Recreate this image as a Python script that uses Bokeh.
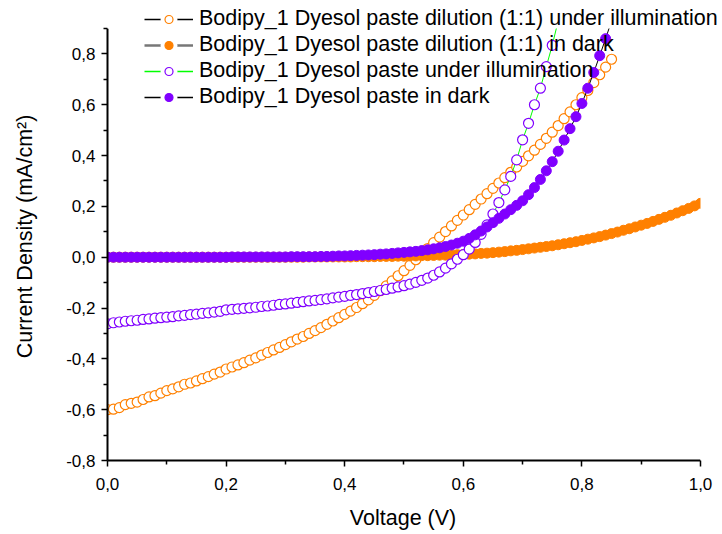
from bokeh.plotting import figure
from bokeh.models import Range1d, Legend, LegendItem, FixedTicker, CustomJSTickFormatter, BoxAnnotation
from bokeh.embed import file_html
from bokeh.resources import INLINE

# ---------------- data ----------------
voltage = [
    0.00, 0.01, 0.02, 0.03, 0.04, 0.05, 0.06, 0.07, 0.08, 0.09,
    0.10, 0.11, 0.12, 0.13, 0.14, 0.15, 0.16, 0.17, 0.18, 0.19,
    0.20, 0.21, 0.22, 0.23, 0.24, 0.25, 0.26, 0.27, 0.28, 0.29,
    0.30, 0.31, 0.32, 0.33, 0.34, 0.35, 0.36, 0.37, 0.38, 0.39,
    0.40, 0.41, 0.42, 0.43, 0.44, 0.45, 0.46, 0.47, 0.48, 0.49,
    0.50, 0.51, 0.52, 0.53, 0.54, 0.55, 0.56, 0.57, 0.58, 0.59,
    0.60, 0.61, 0.62, 0.63, 0.64, 0.65, 0.66, 0.67, 0.68, 0.69,
    0.70, 0.71, 0.72, 0.73, 0.74, 0.75, 0.76, 0.77, 0.78, 0.79,
    0.80, 0.81, 0.82, 0.83, 0.84, 0.85, 0.86, 0.87, 0.88, 0.89,
    0.90, 0.91, 0.92, 0.93, 0.94, 0.95, 0.96, 0.97, 0.98, 0.99,
    1.00,
]

# Bodipy_1 Dyesol paste dilution (1:1) under illumination (0.00 .. 0.85 V)
j_dilution_light = [
    -0.600, -0.598, -0.592, -0.580, -0.575, -0.570, -0.560, -0.550, -0.545, -0.535,
    -0.525, -0.518, -0.510, -0.500, -0.495, -0.487, -0.478, -0.470, -0.460, -0.452,
    -0.440, -0.432, -0.424, -0.415, -0.405, -0.396, -0.385, -0.375, -0.365, -0.355,
    -0.344, -0.333, -0.322, -0.312, -0.300, -0.289, -0.277, -0.264, -0.251, -0.238,
    -0.225, -0.212, -0.198, -0.183, -0.168, -0.150, -0.132, -0.113, -0.093, -0.073,
    -0.053, -0.032, -0.010, 0.012, 0.034, 0.057, 0.079, 0.101, 0.123, 0.145,
    0.166, 0.187, 0.208, 0.229, 0.250, 0.271, 0.292, 0.313, 0.334, 0.355,
    0.377, 0.399, 0.421, 0.444, 0.468, 0.492, 0.518, 0.545, 0.572, 0.600,
    0.628, 0.656, 0.687, 0.718, 0.748, 0.779,
]

# Bodipy_1 Dyesol paste dilution (1:1) in dark (0.00 .. 1.00 V)
j_dilution_dark = [
    0.000, 0.000, 0.000, 0.000, 0.000, 0.000, 0.000, 0.000, 0.000, 0.000,
    0.000, 0.000, 0.000, 0.000, 0.000, 0.000, 0.000, 0.000, 0.000, 0.000,
    0.000, 0.000, 0.000, 0.000, 0.000, 0.000, 0.000, 0.000, 0.000, 0.000,
    0.000, 0.000, 0.000, 0.000, 0.001, 0.001, 0.001, 0.001, 0.001, 0.001,
    0.001, 0.001, 0.002, 0.002, 0.002, 0.002, 0.003, 0.003, 0.003, 0.004,
    0.004, 0.005, 0.005, 0.006, 0.006, 0.007, 0.008, 0.008, 0.009, 0.010,
    0.011, 0.012, 0.013, 0.015, 0.016, 0.018, 0.020, 0.022, 0.025, 0.027,
    0.030, 0.033, 0.036, 0.039, 0.042, 0.045, 0.049, 0.053, 0.057, 0.061,
    0.066, 0.071, 0.076, 0.081, 0.087, 0.093, 0.099, 0.106, 0.112, 0.119,
    0.126, 0.133, 0.141, 0.149, 0.157, 0.165, 0.174, 0.183, 0.192, 0.202,
    0.212,
]

# Bodipy_1 Dyesol paste under illumination (0.00 .. 0.76 V)
j_paste_light = [
    -0.262, -0.258, -0.255, -0.252, -0.250, -0.248, -0.245, -0.243, -0.240, -0.238,
    -0.236, -0.234, -0.231, -0.229, -0.226, -0.224, -0.221, -0.219, -0.216, -0.213,
    -0.207, -0.205, -0.203, -0.201, -0.199, -0.197, -0.194, -0.192, -0.189, -0.186,
    -0.184, -0.181, -0.178, -0.175, -0.172, -0.170, -0.167, -0.164, -0.160, -0.157,
    -0.154, -0.150, -0.147, -0.143, -0.139, -0.135, -0.131, -0.127, -0.122, -0.117,
    -0.112, -0.106, -0.099, -0.091, -0.082, -0.071, -0.058, -0.043, -0.026, -0.008,
    0.010, 0.032, 0.058, 0.090, 0.127, 0.170, 0.215, 0.265, 0.318, 0.383,
    0.462, 0.527, 0.600, 0.665, 0.750, 0.834, 0.930,
]

# Bodipy_1 Dyesol paste in dark (0.00 .. 0.85 V)
j_paste_dark = [
    0.000, 0.000, 0.000, 0.000, 0.000, 0.000, 0.000, 0.000, 0.000, 0.000,
    0.000, 0.000, 0.000, 0.000, 0.000, 0.000, 0.000, 0.000, 0.000, 0.000,
    0.000, 0.001, 0.001, 0.001, 0.001, 0.001, 0.001, 0.001, 0.001, 0.001,
    0.001, 0.002, 0.002, 0.002, 0.002, 0.002, 0.003, 0.003, 0.004, 0.005,
    0.005, 0.006, 0.007, 0.008, 0.009, 0.010, 0.012, 0.013, 0.015, 0.017,
    0.019, 0.021, 0.023, 0.026, 0.029, 0.033, 0.037, 0.042, 0.048, 0.055,
    0.063, 0.074, 0.088, 0.103, 0.119, 0.136, 0.153, 0.170, 0.187, 0.204,
    0.222, 0.246, 0.274, 0.306, 0.340, 0.376, 0.417, 0.461, 0.506, 0.553,
    0.605, 0.665, 0.727, 0.793, 0.860, 0.930,
]

labels = [
    "Bodipy_1 Dyesol paste dilution (1:1) under illumination",
    "Bodipy_1 Dyesol paste dilution (1:1) in dark",
    "Bodipy_1 Dyesol paste under illumination",
    "Bodipy_1 Dyesol paste in dark",
]

x_ticks = [0.0, 0.2, 0.4, 0.6, 0.8, 1.0]
x_minor = [0.1, 0.3, 0.5, 0.7, 0.9]
y_ticks = [-0.8, -0.6, -0.4, -0.2, 0.0, 0.2, 0.4, 0.6, 0.8]
y_minor = [-0.7, -0.5, -0.3, -0.1, 0.1, 0.3, 0.5, 0.7, 0.9]
x_axis_end = 1.0
y_axis_top = 0.9

ORANGE = "#FF8000"
PURPLE = "#8000FF"
GREEN = "#00FF00"
FONT = "Liberation Sans, Arial, sans-serif"
NBSP = "\u00a0"

# ---------------- figure ----------------
# The frame reaches the top and right edges of the page so that the legend (which
# overlaps the frame top in the reference) is not clipped; the axes themselves stop
# at 0.9 (y) and 1.0 (x), and the data are masked beyond them.
p = figure(width=722, height=534, output_backend="svg", toolbar_location=None,
           x_range=Range1d(0.0, 1.0371), y_range=Range1d(-0.8, 1.0102),
           min_border_left=107, min_border_right=0, min_border_top=0,
           min_border_bottom=74)
p.outline_line_color = None
p.xgrid.visible = False
p.ygrid.visible = False
p.background_fill_color = "white"
p.border_fill_color = "white"

fmt = CustomJSTickFormatter(code="return tick.toFixed(1).replace('.', ',').replace('-0,0', '0,0');")
p.xaxis.ticker = FixedTicker(ticks=x_ticks, minor_ticks=x_minor)
p.yaxis.ticker = FixedTicker(ticks=y_ticks, minor_ticks=y_minor)
p.xaxis.bounds = (0.0, x_axis_end)
p.yaxis.bounds = (-0.8, y_axis_top)
for ax in (p.xaxis, p.yaxis):
    ax.formatter = fmt
    ax.axis_line_width = 2
    ax.axis_line_color = "black"
    ax.major_tick_in = 0
    ax.major_tick_out = 6
    ax.minor_tick_in = 0
    ax.minor_tick_out = 4
    ax.major_tick_line_width = 1.5
    ax.minor_tick_line_width = 1.5
    ax.major_tick_line_color = "black"
    ax.minor_tick_line_color = "black"
    ax.major_label_text_font = FONT
    ax.major_label_text_font_size = "17px"
    ax.major_label_text_color = "black"
    ax.axis_label_text_font = FONT
    ax.axis_label_text_font_style = "normal"
    ax.axis_label_text_font_size = "21.5px"
    ax.axis_label_text_color = "black"
# trailing no-break spaces re-centre the labels on the visible axis extent
p.xaxis.axis_label = "Voltage (V)" + NBSP * 4
p.yaxis.axis_label = "Current Density (mA/cm\u00b2)" + NBSP * 2
p.xaxis.major_label_standoff = 11
p.xaxis.axis_label_standoff = 13
p.yaxis.major_label_standoff = 6
p.yaxis.axis_label_standoff = 26

# ---------------- data series ----------------
v1 = voltage[:len(j_dilution_light)]
v2 = voltage[:len(j_dilution_dark)]
v3 = voltage[:len(j_paste_light)]
v4 = voltage[:len(j_paste_dark)]

p.line(v1, j_dilution_light, line_color="black", line_width=1)
p.scatter(v1, j_dilution_light, marker="circle", size=10, fill_color="white",
          line_color=ORANGE, line_width=1.2)

p.line(v2, j_dilution_dark, line_color="#666666", line_width=1)
p.scatter(v2, j_dilution_dark, marker="circle", size=10, fill_color=ORANGE,
          line_color=ORANGE, line_width=1)

p.line(v3, j_paste_light, line_color=GREEN, line_width=1)
p.scatter(v3, j_paste_light, marker="circle", size=10, fill_color="white",
          line_color=PURPLE, line_width=1.2)

p.line(v4, j_paste_dark, line_color="black", line_width=1)
p.scatter(v4, j_paste_dark, marker="circle", size=10, fill_color=PURPLE,
          line_color=PURPLE, line_width=1)

# mask everything outside the axes' extent (data clipped like the reference)
mask_top = BoxAnnotation(bottom=y_axis_top, fill_color="white", fill_alpha=1.0,
                         line_color=None, line_alpha=0)
mask_right = BoxAnnotation(left=x_axis_end, fill_color="white", fill_alpha=1.0,
                           line_color=None, line_alpha=0)
p.add_layout(mask_top)
p.add_layout(mask_right)

# ---------------- legend (legend-only glyphs, no visible data) ----------------
nan = float("nan")
legend_styles = [
    ("black", 1.5, "white", ORANGE),
    ("#777777", 2.5, ORANGE, ORANGE),
    (GREEN, 1.5, "white", PURPLE),
    ("black", 1.5, PURPLE, PURPLE),
]
items = []
for lab, (lc, lw, fc, mc) in zip(labels, legend_styles):
    r_line = p.line([nan], [nan], line_color=lc, line_width=lw)
    r_gap = p.scatter([nan], [nan], marker="circle", fill_color="white", line_color="white",
                      line_width=9)
    r_mk = p.scatter([nan], [nan], marker="circle", fill_color=fc, line_color=mc, line_width=1.2)
    items.append(LegendItem(label=lab, renderers=[r_line, r_gap, r_mk]))

legend = Legend(items=items, location=(37, 351), padding=0, margin=0, spacing=1,
                glyph_width=49, glyph_height=20, label_height=20, label_standoff=6,
                label_text_font=FONT, label_text_font_size="21.5px", label_text_color="black",
                border_line_alpha=0, background_fill_alpha=0)
p.add_layout(legend, "center")

open("out.html", "w").write(file_html(p, INLINE))
